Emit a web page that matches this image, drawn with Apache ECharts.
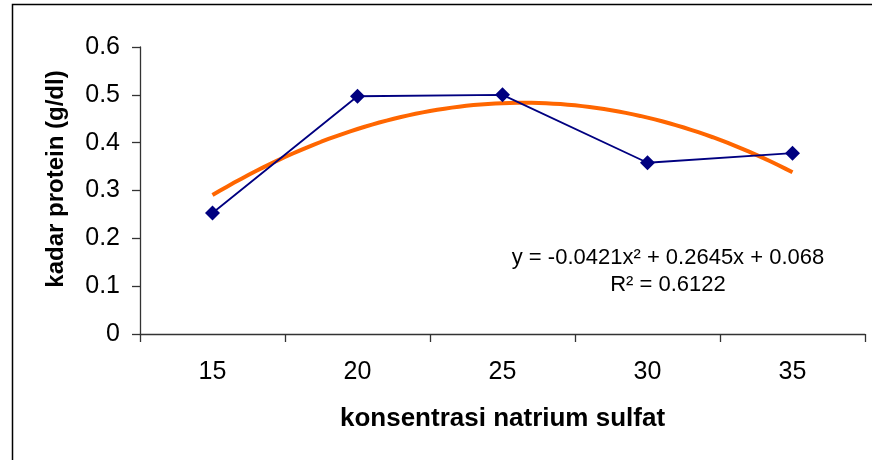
<!DOCTYPE html>
<html>
<head>
<meta charset="utf-8">
<script src="https://cdn.jsdelivr.net/npm/echarts@6/dist/echarts.min.js"></script>
<style>
  html, body { margin: 0; padding: 0; background: #fff; }
  #chart { width: 872px; height: 460px; }
</style>
</head>
<body>
<div id="chart"></div>
<script>
// Concentration of sodium sulfate (categories) and measured protein content
const categories = ['15', '20', '25', '30', '35'];
const proteinValues = [0.253, 0.497, 0.500, 0.358, 0.378];

// Polynomial trendline (order 2) coefficients: y = a*x^2 + b*x + c, x = point index 1..5
const trendCoef = [-0.0421, 0.2645, 0.068];
const trendLabel = ['y = -0.0421x\u00b2 + 0.2645x + 0.068', 'R\u00b2 = 0.6122'];

const yTicks = [0, 0.1, 0.2, 0.3, 0.4, 0.5, 0.6];

const FONT = '"Liberation Sans", Arial, sans-serif';

// Sample the trendline along the point index range
const trendPoints = [];
for (let i = 0; i <= 80; i++) {
  const x = 1 + i * 4 / 80;
  trendPoints.push([x, trendCoef[0] * x * x + trendCoef[1] * x + trendCoef[2]]);
}

const chart = echarts.init(document.getElementById('chart'), null, { renderer: 'canvas' });

chart.setOption({
  backgroundColor: '#ffffff',
  animation: false,
  grid: { left: 140, right: 7, top: 47, bottom: 126 },
  xAxis: [
    {
      type: 'category',
      data: categories,
      boundaryGap: true,
      axisLine: { show: true, lineStyle: { color: '#333', width: 1.3 } },
      axisTick: { show: true, length: 8, lineStyle: { color: '#333', width: 1.3 } },
      axisLabel: { margin: 26, fontSize: 25, color: '#000', fontFamily: FONT },
      splitLine: { show: false },
      name: 'konsentrasi natrium sulfat',
      nameLocation: 'middle',
      nameGap: 72,
      nameTextStyle: { fontSize: 26, fontWeight: 'bold', color: '#000', fontFamily: FONT }
    },
    {
      type: 'value',
      min: 0.5,
      max: 5.5,
      show: false
    }
  ],
  yAxis: {
    type: 'value',
    min: 0,
    max: 0.6,
    interval: 0.1,
    axisLine: { show: true, lineStyle: { color: '#333', width: 1.3 } },
    axisTick: { show: true, length: 8, lineStyle: { color: '#333', width: 1.3 } },
    axisLabel: {
      margin: 20,
      fontSize: 25,
      color: '#000',
      fontFamily: FONT,
      formatter: v => {
        const t = yTicks.find(k => Math.abs(k - v) < 1e-9);
        return t === 0 ? '0' : String(+(t ?? v).toFixed(1));
      }
    },
    splitLine: { show: false }
  },
  graphic: [
    {
      type: 'rect',
      silent: true,
      shape: { x: 12.5, y: 4.5, width: 1000, height: 1000 },
      style: { fill: 'none', stroke: '#000', lineWidth: 1.5 },
      z: -1
    },
    {
      type: 'text',
      x: 56,
      y: 179,
      rotation: Math.PI / 2,
      style: {
        text: 'kadar protein (g/dl)',
        font: 'bold 24px ' + FONT,
        fill: '#000',
        align: 'center',
        verticalAlign: 'middle'
      }
    },
    {
      type: 'text',
      x: 668,
      y: 258,
      style: {
        text: trendLabel[0],
        font: '22px ' + FONT,
        fill: '#000',
        align: 'center',
        verticalAlign: 'middle'
      }
    },
    {
      type: 'text',
      x: 668,
      y: 285,
      style: {
        text: trendLabel[1],
        font: '22px ' + FONT,
        fill: '#000',
        align: 'center',
        verticalAlign: 'middle'
      }
    }
  ],
  series: [
    {
      name: 'kadar protein',
      type: 'line',
      xAxisIndex: 0,
      data: proteinValues,
      symbol: 'diamond',
      symbolSize: 15,
      lineStyle: { color: '#000080', width: 1.8 },
      itemStyle: { color: '#000080' },
      z: 3
    },
    {
      name: 'Poly. (kadar protein)',
      type: 'line',
      xAxisIndex: 1,
      data: trendPoints,
      symbol: 'none',
      smooth: false,
      lineStyle: { color: '#FF6600', width: 4 },
      z: 2
    }
  ]
});
</script>
</body>
</html>
